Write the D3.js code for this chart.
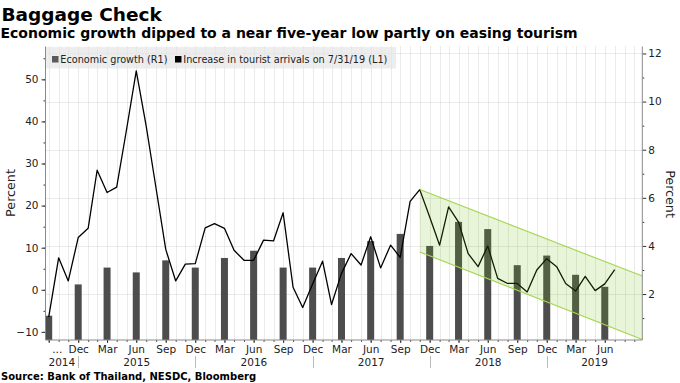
<!DOCTYPE html>
<html><head><meta charset="utf-8">
<script src="https://cdn.jsdelivr.net/npm/d3@7"></script>
<style>
html,body{margin:0;padding:0;background:#fff;}
svg{display:block;}
text{font-family:"DejaVu Sans",sans-serif;}
</style></head><body>
<svg id="chart" width="680" height="383"></svg>
<script>
// ---- data ----
const tourismMonths = [
  "2014-09","2014-10","2014-11","2014-12",
  "2015-01","2015-02","2015-03","2015-04","2015-05","2015-06","2015-07","2015-08","2015-09","2015-10","2015-11","2015-12",
  "2016-01","2016-02","2016-03","2016-04","2016-05","2016-06","2016-07","2016-08","2016-09","2016-10","2016-11","2016-12",
  "2017-01","2017-02","2017-03","2017-04","2017-05","2017-06","2017-07","2017-08","2017-09","2017-10","2017-11","2017-12",
  "2018-01","2018-02","2018-03","2018-04","2018-05","2018-06","2018-07","2018-08","2018-09","2018-10","2018-11","2018-12",
  "2019-01","2019-02","2019-03","2019-04","2019-05","2019-06","2019-07"
];
const tourismGrowth = [
  -6.5, 7.6, 2.1, 12.4,
  14.6, 28.4, 23.1, 24.4, 38.2, 52.0, 38.9, 24.0, 9.6, 2.1, 6.1, 6.2,
  14.7, 15.7, 14.6, 9.4, 7.0, 7.0, 11.8, 11.6, 18.3, 0.6, -4.2, 1.4,
  6.8, -3.5, 3.9, 8.6, 5.9, 12.6, 5.2, 10.6, 7.7, 21.0, 23.8, 17.3,
  10.6, 19.7, 16.1, 8.6, 5.5, 10.4, 2.7, 1.5, 1.5, -0.5, 4.7, 7.4,
  5.5, 1.5, -0.3, 3.2, -0.2, 1.4, 4.8
];
const gdpQuarters = [
  "2014-09","2014-12","2015-03","2015-06","2015-09","2015-12","2016-03","2016-06","2016-09","2016-12",
  "2017-03","2017-06","2017-09","2017-12","2018-03","2018-06","2018-09","2018-12","2019-03","2019-06"
];
const gdpGrowth = [1.1, 2.4, 3.1, 2.9, 3.4, 3.1, 3.5, 3.8, 3.1, 3.1, 3.5, 4.2, 4.5, 4.0, 5.0, 4.7, 3.2, 3.6, 2.8, 2.3];
const quarterTickLabels = ["...","Dec","Mar","Jun","Sep","Dec","Mar","Jun","Sep","Dec","Mar","Jun","Sep","Dec","Mar","Jun","Sep","Dec","Mar","Jun"];
const yearLabels = ["2014","2015","2016","2017","2018","2019"];
const yearBreaks = ["2014-12","2015-12","2016-12","2017-12","2018-12"];
const leftTicks = [-10, 0, 10, 20, 30, 40, 50];
const leftMinorTicks = [-10,-5,0,5,10,15,20,25,30,35,40,45,50,55];
const rightTicks = [2, 4, 6, 8, 10, 12];
const rightMinorTicks = [1,3,5,7,9,11];
const channelStart = "2017-11";
const channelUpper = [23.8, 3.25];
const channelLower = [9.0, -11.8];
const legendLabels = ["Economic growth (R1)", "Increase in tourist arrivals on 7/31/19 (L1)"];
const titleText = "Baggage Check";
const subtitleText = "Economic growth dipped to a near five-year low partly on easing tourism";
const sourceText = "Source: Bank of Thailand, NESDC, Bloomberg";

// ---- layout ----
const L = 45.5, R = 642.3, T = 46.5, B = 340;
const svg = d3.select("#chart");
const monthEnd = s => { const [y, m] = s.split("-").map(Number); return new Date(y, m, 0); };

const x = d3.scaleTime().domain([new Date(2014, 8, 20), new Date(2019, 9, 25)]).range([L, R]);
const yL = d3.scaleLinear().domain([-11.93, 57.8]).range([B, T]);
const yR = d3.scaleLinear().domain([0.09, 12.29]).range([B, T]);

svg.append("defs").append("clipPath").attr("id", "plotclip")
  .append("rect").attr("x", L).attr("y", T).attr("width", R - L).attr("height", B - T);

// titles
svg.append("text").attr("x", 1.5).attr("y", 21).attr("font-size", 18.5).attr("font-weight", "bold").attr("fill", "#000").text(titleText);
svg.append("text").attr("x", 0.5).attr("y", 37.5).attr("font-size", 14).attr("font-weight", "bold").attr("fill", "#000").text(subtitleText);
svg.append("text").attr("x", 1).attr("y", 380).attr("font-size", 10).attr("font-weight", "bold").attr("fill", "#000").text(sourceText);

// gridlines
const monthEnds = d3.timeMonth.range(new Date(2014, 8, 1), new Date(2019, 10, 1))
  .map(d => d3.timeDay.offset(d, -1))
  .filter(d => d >= x.domain()[0] && d <= x.domain()[1]);
const grid = svg.append("g").attr("stroke", "#d4d4d4").attr("stroke-width", 1).attr("stroke-dasharray", "1,1");
grid.selectAll("line.v").data(monthEnds).join("line").attr("class", "v")
  .attr("x1", d => Math.round(x(d)) + 0.5).attr("x2", d => Math.round(x(d)) + 0.5)
  .attr("y1", T).attr("y2", B);
grid.selectAll("line.h").data(rightTicks).join("line").attr("class", "h")
  .attr("x1", L).attr("x2", R)
  .attr("y1", d => Math.round(yR(d)) + 0.5).attr("y2", d => Math.round(yR(d)) + 0.5);

const plot = svg.append("g").attr("clip-path", "url(#plotclip)");

// bars
const barData = gdpQuarters.map((q, i) => ({ date: monthEnd(q), v: gdpGrowth[i] }));
plot.selectAll("rect.bar").data(barData).join("rect").attr("class", "bar")
  .attr("x", d => x(d.date) - 3.5).attr("width", 7)
  .attr("y", d => yR(d.v)).attr("height", d => yR(0) - yR(d.v))
  .attr("fill", "#4d4d4d");

// line
const lineData = tourismMonths.map((m, i) => ({ date: monthEnd(m), v: tourismGrowth[i] }));
plot.append("path").datum(lineData)
  .attr("d", d3.line().x(d => x(d.date)).y(d => yL(d.v)))
  .attr("fill", "none").attr("stroke", "#000").attr("stroke-width", 1.3).attr("stroke-linejoin", "round");

// channel
const cx0 = x(monthEnd(channelStart)), cx1 = x.range()[1];
plot.append("polygon")
  .attr("points", [[cx0, yL(channelUpper[0])], [cx1, yL(channelUpper[1])], [cx1, yL(channelLower[1])], [cx0, yL(channelLower[0])]].map(p => p.join(",")).join(" "))
  .attr("fill", "rgb(120,190,20)").attr("fill-opacity", 0.16);
[channelUpper, channelLower].forEach(c => {
  plot.append("line").attr("x1", cx0).attr("y1", yL(c[0])).attr("x2", cx1).attr("y2", yL(c[1]))
    .attr("stroke", "#a3d64c").attr("stroke-width", 1.1);
});

// legend
const lg = svg.append("g");
lg.append("rect").attr("x", 46).attr("y", 47).attr("width", 350).attr("height", 21.5).attr("fill", "#e6e6e6").attr("fill-opacity", 0.7);
const legendX = [52, 175];
const legendColors = ["#5a5a5a", "#000"];
legendLabels.forEach((t, i) => {
  lg.append("rect").attr("x", legendX[i]).attr("y", 56).attr("width", 6.5).attr("height", 6.5).attr("fill", legendColors[i]);
  lg.append("text").attr("x", legendX[i] + 8.3).attr("y", 63).attr("font-size", 9.7).attr("fill", "#222").text(t);
});

// left axis
const axL = svg.append("g").attr("transform", `translate(${L},0)`)
  .call(d3.axisLeft(yL).tickValues(leftTicks).tickSize(4).tickPadding(3).tickFormat(d3.format("d")));
axL.select(".domain").remove();
axL.selectAll("text").attr("font-size", 10.5).attr("font-family", "DejaVu Sans").attr("fill", "#222");
axL.selectAll(".tick line").attr("stroke", "#333");
svg.append("g").attr("transform", `translate(${L},0)`)
  .call(d3.axisLeft(yL).tickValues(leftMinorTicks).tickSize(2).tickFormat(""))
  .call(g => g.select(".domain").remove())
  .selectAll("line").attr("stroke", "#333");
svg.append("line").attr("x1", L).attr("x2", L).attr("y1", T).attr("y2", B).attr("stroke", "#8a8a8a");

// right axis
const axR = svg.append("g").attr("transform", `translate(${R},0)`)
  .call(d3.axisRight(yR).tickValues(rightTicks).tickSize(4).tickPadding(2).tickFormat(d3.format("d")));
axR.select(".domain").remove();
axR.selectAll("text").attr("font-size", 10.5).attr("font-family", "DejaVu Sans").attr("fill", "#222");
axR.selectAll(".tick line").attr("stroke", "#333");
svg.append("g").attr("transform", `translate(${R},0)`)
  .call(d3.axisRight(yR).tickValues(rightMinorTicks).tickSize(2).tickFormat(""))
  .call(g => g.select(".domain").remove())
  .selectAll("line").attr("stroke", "#333");
svg.append("line").attr("x1", R).attr("x2", R).attr("y1", T).attr("y2", B).attr("stroke", "#8a8a8a");

// axis titles
svg.append("text").attr("transform", "translate(15,193) rotate(-90)").attr("text-anchor", "middle")
  .attr("font-size", 12.7).attr("fill", "#222").text("Percent");
svg.append("text").attr("transform", "translate(665.5,194) rotate(90)").attr("text-anchor", "middle")
  .attr("font-size", 12.7).attr("fill", "#222").text("Percent");

// bottom axis
svg.append("g").attr("transform", `translate(0,${B})`)
  .call(d3.axisBottom(x).tickValues(monthEnds).tickSize(2).tickFormat(""))
  .call(g => g.select(".domain").remove())
  .selectAll("line").attr("stroke", "#555");
const quarterDates = gdpQuarters.map(monthEnd);
const axB = svg.append("g").attr("transform", `translate(0,${B})`)
  .call(d3.axisBottom(x).tickValues(quarterDates).tickSize(3).tickPadding(2.5).tickFormat((d, i) => quarterTickLabels[i]));
axB.select(".domain").remove();
axB.selectAll(".tick line").attr("stroke", "#333");
axB.selectAll("text").attr("font-size", 10.5).attr("font-family", "DejaVu Sans").attr("fill", "#222");
axB.selectAll(".tick").filter((d, i) => i === 0).select("text").attr("text-anchor", "start").attr("x", 3);
svg.append("line").attr("x1", L).attr("x2", R).attr("y1", B).attr("y2", B).attr("stroke", "#8a8a8a");

// year labels and separators
const yb = yearBreaks.map(monthEnd).map(d => x(d));
const bounds = [L, ...yb, R];
svg.selectAll("line.ysep").data(yb).join("line").attr("class", "ysep")
  .attr("x1", d => Math.round(d) + 0.5).attr("x2", d => Math.round(d) + 0.5).attr("y1", 356).attr("y2", 368)
  .attr("stroke", "#bbb");
svg.selectAll("text.year").data(yearLabels).join("text").attr("class", "year")
  .attr("x", (d, i) => (bounds[i] + bounds[i + 1]) / 2).attr("y", 366)
  .attr("text-anchor", "middle").attr("font-size", 10.5).attr("fill", "#222").text(d => d);
</script>
</body></html>
